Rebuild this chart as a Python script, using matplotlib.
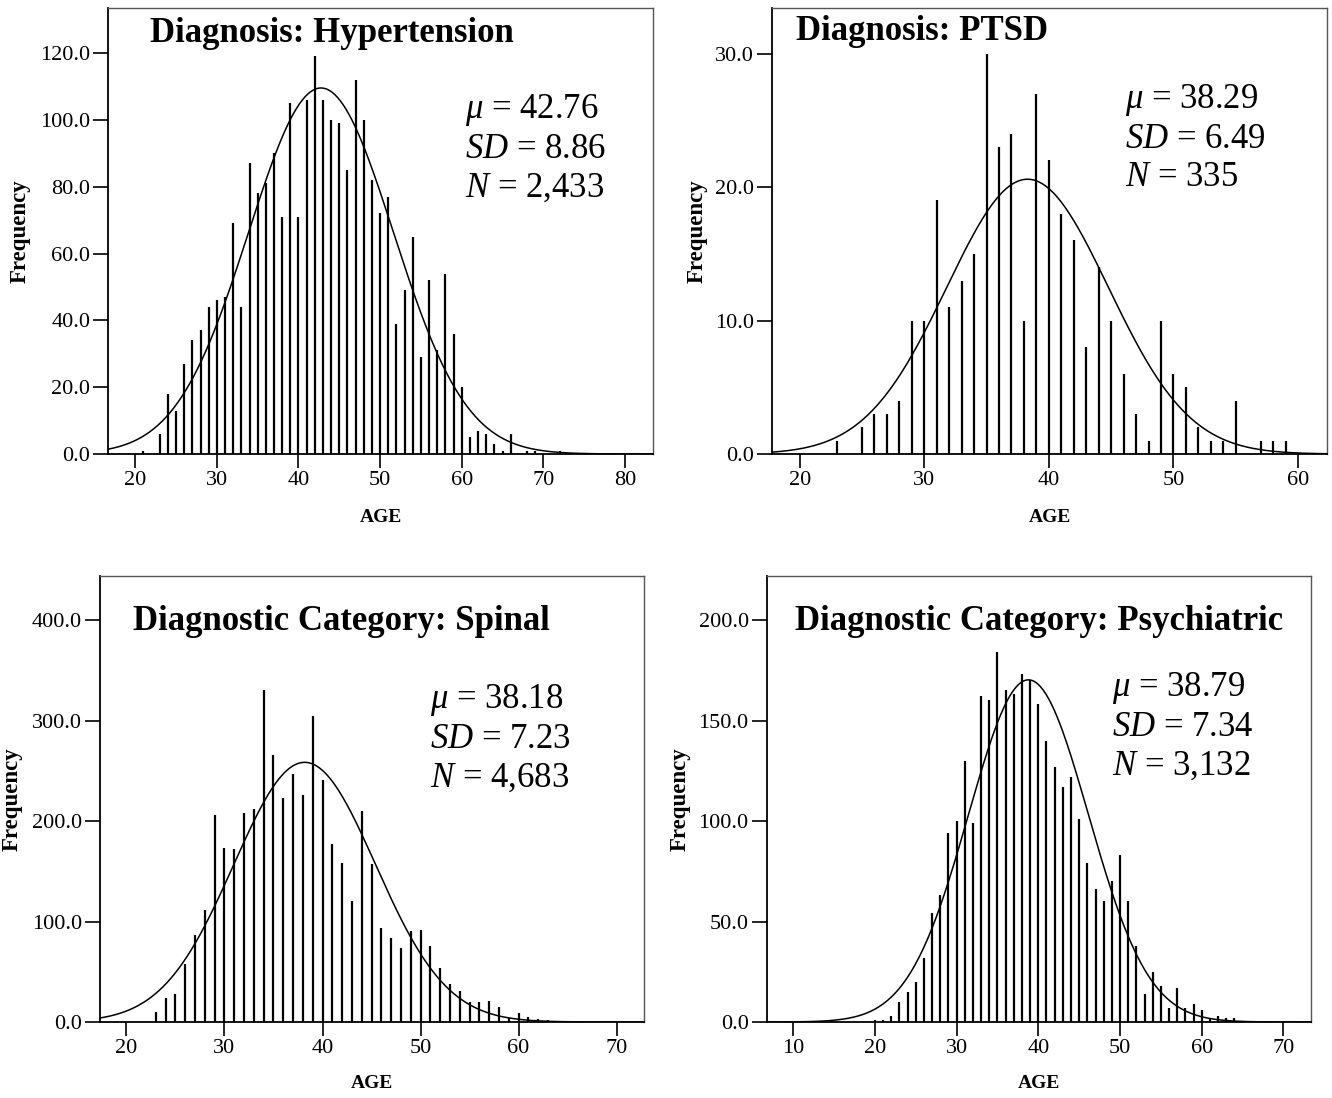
import numpy as np
import matplotlib
matplotlib.use("Agg")
import matplotlib.pyplot as plt

plt.rcParams['font.family'] = ['Liberation Serif', 'DejaVu Serif']
plt.rcParams['mathtext.fontset'] = 'custom'
plt.rcParams['mathtext.rm'] = 'Liberation Serif'
plt.rcParams['mathtext.it'] = 'Liberation Serif:italic'

# --- data: age -> count ---
htn_age = [21, 23, 24, 25, 26, 27, 28, 29, 30, 31, 32, 33, 34, 35, 36, 37, 38, 39, 40,
           41, 42, 43, 44, 45, 46, 47, 48, 49, 50, 51, 52, 53, 54, 55, 56, 57, 58, 59,
           60, 61, 62, 63, 64, 65, 66, 68, 69, 72]
htn_cnt = [1, 6, 18, 13, 27, 34, 37, 44, 46, 47, 69, 44, 87, 78, 81, 90, 71, 105, 71,
           106, 119, 106, 100, 99, 85, 112, 100, 82, 72, 77, 39, 49, 65, 29, 52, 31, 54, 36,
           20, 5, 7, 6, 3, 1, 6, 1, 1, 1]

ptsd_age = [23, 25, 26, 27, 28, 29, 30, 31, 32, 33, 34, 35, 36, 37, 38, 39, 40, 41, 42,
            43, 44, 45, 46, 47, 48, 49, 50, 51, 52, 53, 54, 55, 57, 58, 59]
ptsd_cnt = [1, 2, 3, 3, 4, 10, 10, 19, 11, 13, 15, 30, 23, 24, 10, 27, 22, 18, 16,
            8, 14, 10, 6, 3, 1, 10, 6, 5, 2, 1, 1, 4, 1, 1, 1]

spine_age = list(range(23, 65))
spine_cnt = [10, 24, 28, 58, 87, 111, 206, 173, 172, 208, 212, 330, 266, 223, 247, 226, 304,
             241, 177, 158, 120, 210, 157, 94, 84, 74, 91, 92, 76, 54, 38, 31, 20, 20, 21,
             15, 4, 9, 5, 3, 2, 1]

psych_age = list(range(20, 65))
psych_cnt = [1, 1, 3, 10, 15, 20, 32, 54, 63, 94, 100, 130, 99, 162, 160, 184, 165, 163, 173,
             170, 158, 140, 127, 117, 122, 101, 79, 66, 60, 70, 83, 60, 38, 14, 25, 18, 7, 17,
             7, 9, 6, 2, 3, 2, 2]

titles = ["Diagnosis: Hypertension", "Diagnosis: PTSD",
          "Diagnostic Category: Spinal", "Diagnostic Category: Psychiatric"]
means = [42.76, 38.29, 38.18, 38.79]
sds = [8.86, 6.49, 7.23, 7.34]
ns = ["2,433", "335", "4,683", "3,132"]
n_vals = [2433, 335, 4683, 3132]

W, H = 1332, 1098
fig = plt.figure(figsize=(W / 100, H / 100), dpi=100)


def rect(l, r, t, b):
    return [l / W, 1 - b / H, (r - l) / W, (b - t) / H]


panels = [
    dict(box=rect(108.3, 652.7, 8.3, 454), xlim=(16.7, 83.4), ylim=(0, 133.4),
         xt=range(20, 81, 10), yt=range(0, 121, 20), age=htn_age, cnt=htn_cnt,
         title_xy=(150, 33), stat_xy=(465, 110), ylab_x=20, xlab_y=517),
    dict(box=rect(772.3, 1327.3, 8.3, 454), xlim=(17.8, 62.35), ylim=(0, 33.4),
         xt=range(20, 61, 10), yt=range(0, 31, 10), age=ptsd_age, cnt=ptsd_cnt,
         title_xy=(796, 31), stat_xy=(1125, 100), ylab_x=697, xlab_y=517),
    dict(box=rect(100, 644, 576, 1022), xlim=(17.3, 72.8), ylim=(0, 443.8),
         xt=range(20, 71, 10), yt=range(0, 401, 100), age=spine_age, cnt=spine_cnt,
         title_xy=(133, 621), stat_xy=(430, 700), ylab_x=12, xlab_y=1083),
    dict(box=rect(766.7, 1310.7, 576, 1022), xlim=(6.74, 73.35), ylim=(0, 221.9),
         xt=range(10, 71, 10), yt=range(0, 201, 50), age=psych_age, cnt=psych_cnt,
         title_xy=(795, 621), stat_xy=(1112, 688), ylab_x=680, xlab_y=1083),
]

for i, p in enumerate(panels):
    ax = fig.add_axes(p['box'])
    ax.vlines(p['age'], 0, p['cnt'], colors='black', linewidth=1.6)
    xs = np.linspace(p['xlim'][0], p['xlim'][1], 400)
    ys = n_vals[i] / (sds[i] * np.sqrt(2 * np.pi)) * np.exp(-0.5 * ((xs - means[i]) / sds[i]) ** 2)
    ax.plot(xs, ys, color='black', linewidth=1.1)
    ax.set_xlim(*p['xlim'])
    ax.set_ylim(*p['ylim'])
    ax.set_xticks(list(p['xt']))
    ax.set_yticks(list(p['yt']))
    ax.set_yticklabels([f"{v:.1f}" for v in p['yt']])
    ax.tick_params(direction='out', length=11, width=1.2, labelsize=16, colors='black', pad=2)
    ax.tick_params(axis='x', length=10)
    for s in ['top', 'right']:
        ax.spines[s].set_color('#555555')
        ax.spines[s].set_linewidth(1.0)
    for s in ['left', 'bottom']:
        ax.spines[s].set_color('black')
        ax.spines[s].set_linewidth(1.3)

    tx, ty = p['title_xy']
    fig.text(tx / W, 1 - ty / H, titles[i], fontsize=25, fontweight='bold', va='center', ha='left')
    sx, sy = p['stat_xy']
    lines = [r"$\mu$ = %.2f" % means[i], r"$SD$ = %.2f" % sds[i], r"$N$ = %s" % ns[i]]
    for k, ln in enumerate(lines):
        fig.text(sx / W, 1 - (sy + k * 39) / H, ln, fontsize=25, va='center', ha='left')
    fig.text(p['ylab_x'] / W, p['box'][1] + p['box'][3] / 2,
             "Frequency", rotation=90, fontsize=16.5, fontweight='bold', va='center', ha='center')
    fig.text(p['box'][0] + p['box'][2] / 2, 1 - p['xlab_y'] / H, "AGE",
             fontsize=14, fontweight='bold', va='center', ha='center')

fig.savefig("out.png", dpi=100)
